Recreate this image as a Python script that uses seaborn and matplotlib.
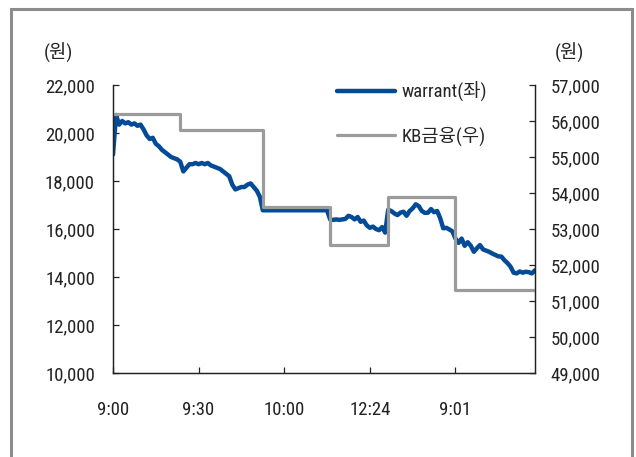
import matplotlib
matplotlib.use("Agg")
import matplotlib.pyplot as plt
import matplotlib.patches as mpatches
from matplotlib.lines import Line2D
import numpy as np
import pandas as pd
import seaborn as sns

# Warrant price (left axis, KRW), one reading per intraday sample
warrant = [
    19100, 20750, 20350, 20500, 20400, 20450, 20350, 20400, 20300, 20350,
    20150, 19900, 19750, 19800, 19550, 19450, 19300, 19200, 19100, 19000,
    18950, 18900, 18800, 18400, 18550, 18700, 18700, 18750, 18700, 18750,
    18700, 18750, 18650, 18600, 18550, 18500, 18400, 18300, 18200, 17850,
    17650, 17700, 17750, 17750, 17850, 17900, 17750, 17600, 17350, 16780,
    16780, 16780, 16780, 16780, 16780, 16780, 16780, 16780, 16780, 16780,
    16780, 16780, 16780, 16780, 16780, 16780, 16780, 16780, 16780, 16780,
    16780, 16400, 16380, 16400, 16380, 16400, 16420, 16550, 16500, 16400,
    16500, 16300, 16350, 16150, 16050, 16100, 16000, 15950, 16080, 15850,
    16800, 16750, 16650, 16580, 16680, 16720, 16550, 16750, 16860, 17030,
    16950, 16750, 16670, 16680, 16830, 16700, 16750, 16450, 16030, 16050,
    15980, 15900, 15600, 15420, 15600, 15300, 15450, 15300, 15050, 15200,
    15330, 15150, 15100, 15050, 14980, 14920, 14860, 14850, 14700, 14580,
    14430, 14180, 14150, 14230, 14180, 14220, 14200, 14150, 14280,
]

# KB금융 daily price (right axis) and number of samples in each session
kb_close = [56200, 55750, 53600, 52550, 53900, 51300]
session_len = [22, 27, 22, 19, 22, 27]

tick_pos = [0, 28, 56, 84, 112]
tick_labels = ["9:00", "9:30", "10:00", "12:24", "9:01"]

left_ticks = [10000, 12000, 14000, 16000, 18000, 20000, 22000]
right_ticks = [49000, 50000, 51000, 52000, 53000, 54000, 55000, 56000, 57000]

sns.set_style("ticks")
plt.rcParams["font.family"] = ["Roboto Condensed", "Noto Sans CJK KR", "DejaVu Sans"]

idx = np.arange(len(warrant))
df = pd.DataFrame({
    "t": idx,
    "warrant": warrant,
    "kb": np.repeat(kb_close, session_len),
})

BLUE = "#034b96"
GRAY = "#9b9b9b"
INK = "#222222"
FS = 13.5

fig = plt.figure(figsize=(6.36, 4.57), dpi=100)
ax = fig.add_axes([113 / 636, 1 - 373 / 457, (535 - 113) / 636, (373 - 85) / 457])
ax2 = ax.twinx()

sns.lineplot(data=df, x="t", y="warrant", ax=ax, color=BLUE, lw=3.2,
             solid_joinstyle="round")
sns.lineplot(data=df, x="t", y="kb", ax=ax2, color=GRAY, lw=2.3,
             drawstyle="steps-post")

for a in (ax, ax2):
    if a.get_legend() is not None:
        a.get_legend().remove()
    a.set_xlabel("")
    a.set_ylabel("")
    a.spines["top"].set_visible(False)
    for s in a.spines.values():
        s.set_color(INK)
        s.set_linewidth(0.9)

ax.set_xlim(0, len(warrant) - 1)
ax.set_ylim(10000, 22000)
ax2.set_ylim(49000, 57000)

ax.set_yticks(left_ticks)
ax.set_yticklabels([f"{v:,}" for v in left_ticks])
ax2.set_yticks(right_ticks)
ax2.set_yticklabels([f"{v:,}" for v in right_ticks])
ax.set_xticks(tick_pos)
ax.set_xticklabels(tick_labels)

ax.tick_params(axis="y", direction="in", length=4, width=0.9, color=INK,
               labelsize=FS, pad=13, labelcolor=INK)
ax2.tick_params(axis="y", direction="in", length=4, width=0.9, color=INK,
                labelsize=FS, pad=11, labelcolor=INK)
ax.tick_params(axis="x", direction="in", length=4, width=0.9, color=INK,
               labelsize=FS, pad=20, labelcolor=INK)

# unit labels above each value axis
fig.text(44 / 636, 1 - 53 / 457, "(원)", fontsize=FS, color=INK,
         ha="left", va="center")
fig.text(555 / 636, 1 - 53 / 457, "(원)", fontsize=FS, color=INK,
         ha="left", va="center")

handles = [
    Line2D([], [], color=BLUE, lw=3.2),
    Line2D([], [], color=GRAY, lw=2.3),
]
fig.legend(handles, ["warrant(좌)", "KB금융(우)"], loc="upper left",
           bbox_to_anchor=(331 / 636, 1 - 76 / 457), frameon=False,
           fontsize=FS, handlelength=3.1, handletextpad=0.35,
           labelspacing=1.3, borderaxespad=0, borderpad=0.3)

# outer frame around the whole chart
frame = mpatches.Rectangle((11 / 636, -0.2), (632 - 11) / 636, 1.2 - 9 / 457,
                           transform=fig.transFigure, fill=False,
                           edgecolor="#8c8c8c", lw=2.2, clip_on=False)
fig.patches.append(frame)

fig.savefig("out.png", dpi=100)
